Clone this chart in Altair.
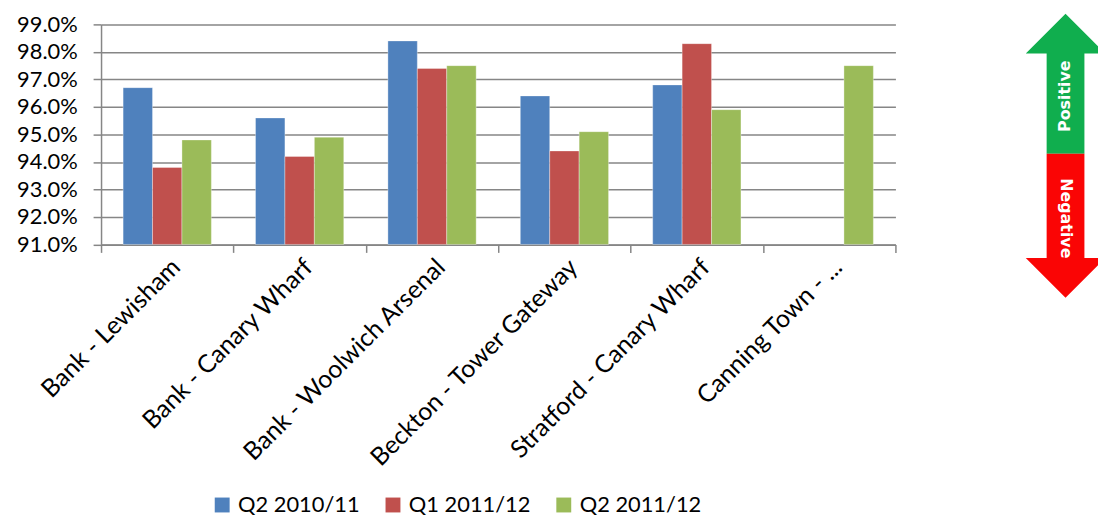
import altair as alt
import pandas as pd

categories = ["Bank - Lewisham", "Bank - Canary Wharf", "Bank - Woolwich Arsenal",
              "Beckton - Tower Gateway", "Stratford - Canary Wharf", "Canning Town - ..."]
series = ["Q2 2010/11", "Q1 2011/12", "Q2 2011/12"]
q2_2010 = [0.967, 0.956, 0.984, 0.964, 0.968, None]
q1_2011 = [0.938, 0.942, 0.974, 0.944, 0.983, None]
q2_2011 = [0.948, 0.949, 0.975, 0.951, 0.959, 0.975]
colors = ["#4F81BD", "#C0504D", "#9BBB59"]
y_ticks = [0.91, 0.92, 0.93, 0.94, 0.95, 0.96, 0.97, 0.98, 0.99]

rows = []
for s, vals in zip(series, [q2_2010, q1_2011, q2_2011]):
    for c, v in zip(categories, vals):
        if v is not None:
            rows.append({"route": c, "series": s, "value": v})
df = pd.DataFrame(rows)

FONT = "Lato"
GRID = "#868686"

bars = alt.Chart(df).mark_bar(stroke="white", strokeWidth=1, strokeOpacity=0.35).encode(
    x=alt.X("route:N", sort=categories, title=None,
            scale=alt.Scale(paddingInner=0, paddingOuter=0),
            axis=alt.Axis(labelAngle=-45, labelFontSize=25, labelFont=FONT,
                          labelColor="#000", tickBand="extent", tickSize=8,
                          tickColor=GRID, domainColor=GRID, tickWidth=1.5,
                          domainWidth=1.5, labelPadding=2, labelLimit=400)),
    xOffset=alt.XOffset("series:N", sort=series,
                        scale=alt.Scale(paddingOuter=0.75, paddingInner=0)),
    y=alt.Y("value:Q", title=None,
            scale=alt.Scale(domain=[0.91, 0.99], zero=False, nice=False),
            axis=alt.Axis(values=y_ticks, format=".1%", labelFontSize=22,
                          labelFont=FONT, labelColor="#000", tickSize=8,
                          tickColor=GRID, domainColor=GRID, gridColor=GRID,
                          gridWidth=1.5, tickWidth=1.5, domainWidth=1.5,
                          labelPadding=16)),
    y2=alt.datum(0.91),
    color=alt.Color("series:N", sort=series,
                    scale=alt.Scale(domain=series, range=colors),
                    legend=alt.Legend(title=None, orient="none", direction="horizontal",
                                      legendX=111, legendY=473,
                                      symbolType="square", symbolSize=225,
                                      symbolStrokeWidth=0,
                                      labelFontSize=22, labelFont=FONT,
                                      labelColor="#000", columnPadding=22,
                                      labelOffset=5, labelLimit=300)),
)

one = pd.DataFrame({"k": [0]})
ax_c, ay_c = 971.3, 132.3
arrow_size = 286 ** 2
up_path = "M0,-1 L0.28,-0.72 L0.133,-0.72 L0.133,-0.014 L-0.133,-0.014 L-0.133,-0.72 L-0.28,-0.72 Z"
down_path = "M0.133,-0.014 L0.133,0.72 L0.28,0.72 L0,1 L-0.28,0.72 L-0.133,0.72 L-0.133,-0.014 Z"

up = alt.Chart(one).mark_point(shape=up_path, filled=True, color="#10AE4E",
                               opacity=1, size=arrow_size).encode(
    x=alt.value(ax_c), y=alt.value(ay_c))
down = alt.Chart(one).mark_point(shape=down_path, filled=True, color="#FA0505",
                                 opacity=1, size=arrow_size).encode(
    x=alt.value(ax_c), y=alt.value(ay_c))
pos = alt.Chart(one).mark_text(text="Positive", angle=270, color="white",
                               font="DejaVu Sans", fontWeight="bold",
                               fontSize=16, align="center", baseline="middle").encode(
    x=alt.value(971.3), y=alt.value(72.3))
neg = alt.Chart(one).mark_text(text="Negative", angle=90, color="white",
                               font="DejaVu Sans", fontWeight="bold",
                               fontSize=16, align="center", baseline="middle").encode(
    x=alt.value(971.3), y=alt.value(195.3))

chart = alt.layer(bars, up, down, pos, neg).properties(
    width=800, height=221.6,
    autosize=alt.AutoSizeParams(type="none"),
    padding={"left": 93.7, "top": 14.7, "right": 204, "bottom": 275.5},
).configure_view(stroke=None).configure_axisY(grid=True).configure_axisX(grid=False)

chart.save("out.html", embed_options={"renderer": "svg", "actions": False})
